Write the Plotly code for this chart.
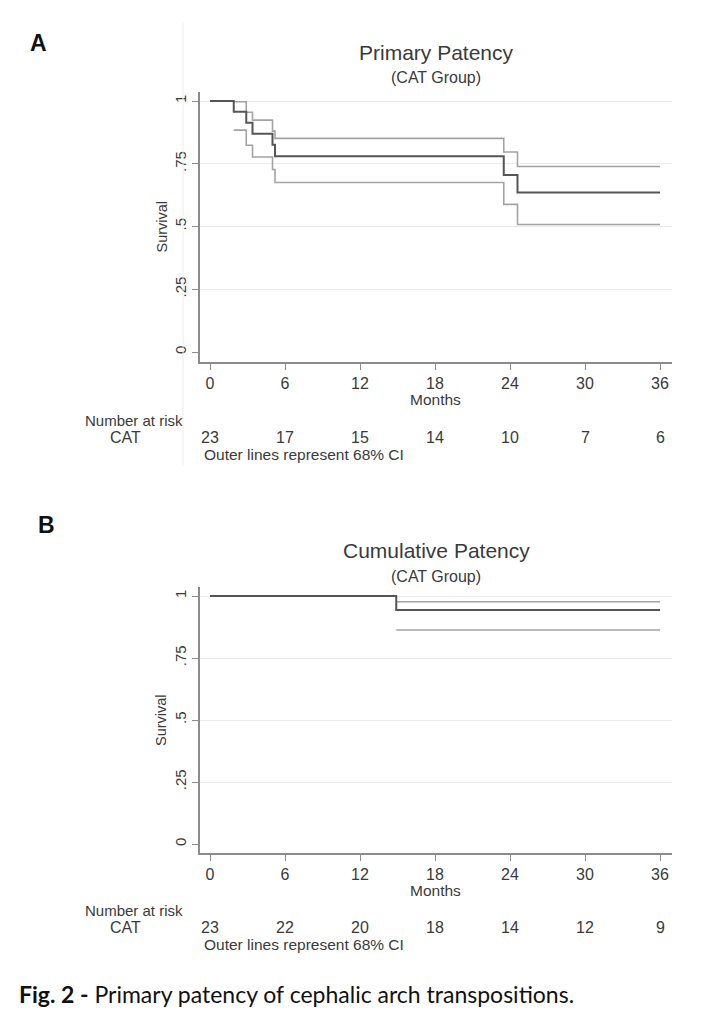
import plotly.graph_objects as go

# ---------------- data ----------------
tick_months = [0, 6, 12, 18, 24, 30, 36]
y_ticks = [0, 0.25, 0.5, 0.75, 1]
y_tick_text = ["0", ".25", ".5", ".75", "1"]
grid_vals = [0.25, 0.5, 0.75, 1]

# Panel A - Primary patency
a_main_t = [0, 1.9, 2.9, 3.4, 5.0, 5.2, 23.5, 24.6, 36]
a_main_s = [1, 0.957, 0.913, 0.870, 0.826, 0.780, 0.705, 0.635, 0.635]
a_up_t = [1.9, 2.9, 3.4, 5.0, 5.2, 23.5, 24.6, 36]
a_up_s = [0.997, 0.955, 0.924, 0.880, 0.851, 0.797, 0.739, 0.739]
a_lo_t = [1.9, 2.9, 3.4, 5.0, 5.2, 23.5, 24.6, 36]
a_lo_s = [0.884, 0.824, 0.777, 0.727, 0.675, 0.588, 0.508, 0.508]
a_risk = [23, 17, 15, 14, 10, 7, 6]

# Panel B - Cumulative patency
b_main_t = [0, 14.9, 36]
b_main_s = [1, 0.944, 0.944]
b_up_t = [14.9, 36]
b_up_s = [0.977, 0.977]
b_lo_t = [14.9, 36]
b_lo_s = [0.863, 0.863]
b_risk = [23, 22, 20, 18, 14, 12, 9]

W, H = 706, 1024
FONT = "Liberation Sans, Arial, sans-serif"
TXT = "#3a3a3a"
MAIN_C = "#555555"
CI_C = "#a3a3a3"
AX_C = "#8c8c8c"

def px(x):
    return x / W

def py(y):
    return 1 - y / H

fig = go.Figure()

# x-range so that 0 -> 210px and 36 -> 660px, axis from 200px to 672px
x0p, x36p, xl, xr = 210, 660, 200, 672
scale = (x36p - x0p) / 36.0
x_range = [(xl - x0p) / scale, (xr - x0p) / scale]

panels = [
    dict(main=(a_main_t, a_main_s), up=(a_up_t, a_up_s), lo=(a_lo_t, a_lo_s), risk=a_risk,
         y1p=101, y0p=352, top=92, bot=362, title="Primary Patency", sub="(CAT Group)",
         title_y=52, sub_y=77, label="A", label_xy=(38, 43), months_y=399,
         nar_y=420, cat_y=437, outer_y=454),
    dict(main=(b_main_t, b_main_s), up=(b_up_t, b_up_s), lo=(b_lo_t, b_lo_s), risk=b_risk,
         y1p=596, y0p=844, top=587, bot=853, title="Cumulative Patency", sub="(CAT Group)",
         title_y=550, sub_y=576, label="B", label_xy=(46, 525), months_y=890,
         nar_y=910, cat_y=927, outer_y=944),
]

annotations = []
for i, p in enumerate(panels):
    n = i + 1
    xa = "x" if n == 1 else f"x{n}"
    ya = "y" if n == 1 else f"y{n}"
    yg = f"y{n + 2}"
    upx = (p["y0p"] - p["y1p"])
    y_range = [-(p["bot"] - p["y0p"]) / upx, 1 + (p["y1p"] - p["top"]) / upx]

    for (t, s), col, wd in [(p["up"], CI_C, 1.6), (p["lo"], CI_C, 1.6), (p["main"], MAIN_C, 2.0)]:
        fig.add_trace(go.Scatter(x=t, y=s, mode="lines", line=dict(color=col, width=wd, shape="hv"),
                                 xaxis=xa, yaxis=ya, showlegend=False, hoverinfo="skip"))

    dom_x = [px(xl), px(xr)]
    dom_y = [py(p["bot"]), py(p["top"])]
    xkey = "xaxis" if n == 1 else f"xaxis{n}"
    ykey = "yaxis" if n == 1 else f"yaxis{n}"
    fig.update_layout(**{
        xkey: dict(domain=dom_x, range=x_range, anchor=ya, tickvals=tick_months,
                   ticks="outside", ticklen=6, tickcolor=AX_C, tickwidth=1.3,
                   showline=True, linecolor=AX_C, linewidth=1.5, showgrid=False, zeroline=False,
                   tickfont=dict(family=FONT, size=16, color=TXT), showticklabels=True),
        ykey: dict(domain=dom_y, range=y_range, anchor=xa, tickvals=y_ticks, ticktext=y_tick_text,
                   tickangle=-90, ticks="outside", ticklen=6, tickcolor=AX_C, tickwidth=1.3,
                   showline=True, linecolor=AX_C, linewidth=1.5, showgrid=False, zeroline=False,
                   tickfont=dict(family=FONT, size=15, color=TXT)),
        f"yaxis{n + 2}": dict(domain=dom_y, range=y_range, overlaying=ya, anchor=xa,
                              tickvals=grid_vals, showticklabels=False, showgrid=True,
                              gridcolor="#ebebeb", gridwidth=1.3, zeroline=False, showline=False,
                              layer="below traces"),
    })
    fig.add_trace(go.Scatter(x=[None], y=[None], xaxis=xa, yaxis=yg, showlegend=False, hoverinfo="skip"))

    cx = (xl + xr) / 2
    annotations += [
        dict(text=p["title"], x=px(cx), y=py(p["title_y"]), xref="paper", yref="paper",
             showarrow=False, font=dict(family=FONT, size=21, color=TXT), xanchor="center", yanchor="middle"),
        dict(text=p["sub"], x=px(cx), y=py(p["sub_y"]), xref="paper", yref="paper",
             showarrow=False, font=dict(family=FONT, size=16, color=TXT), xanchor="center", yanchor="middle"),
        dict(text="<b>" + p["label"] + "</b>", x=px(p["label_xy"][0]), y=py(p["label_xy"][1]),
             xref="paper", yref="paper", showarrow=False,
             font=dict(family=FONT, size=23, color="#111111"), xanchor="center", yanchor="middle"),
        dict(text="Survival", x=px(161), y=py((p["y0p"] + p["y1p"]) / 2), xref="paper", yref="paper",
             showarrow=False, textangle=-90, font=dict(family=FONT, size=14.5, color=TXT),
             xanchor="center", yanchor="middle"),
        dict(text="Months", x=18, y=py(p["months_y"]), xref=xa, yref="paper", showarrow=False,
             font=dict(family=FONT, size=15.5, color=TXT), xanchor="center", yanchor="middle"),
        dict(text="Number at risk", x=px(185), y=py(p["nar_y"]), xref="paper", yref="paper",
             showarrow=False, font=dict(family=FONT, size=15, color=TXT), xanchor="right", yanchor="middle"),
        dict(text="CAT", x=px(126), y=py(p["cat_y"]), xref="paper", yref="paper",
             showarrow=False, font=dict(family=FONT, size=16, color=TXT), xanchor="center", yanchor="middle"),
        dict(text="Outer lines represent 68% CI", x=px(202), y=py(p["outer_y"]), xref="paper", yref="paper",
             showarrow=False, font=dict(family=FONT, size=15.5, color=TXT), xanchor="left", yanchor="middle"),
    ]
    for t, r in zip(tick_months, p["risk"]):
        annotations.append(dict(text=str(r), x=t, y=py(p["cat_y"]), xref=xa, yref="paper", showarrow=False,
                                font=dict(family=FONT, size=16, color=TXT), xanchor="center", yanchor="middle"))

annotations.append(dict(text="<b>Fig. 2 -</b> Primary patency of cephalic arch transpositions.",
                        x=px(17), y=py(994), xref="paper", yref="paper", showarrow=False,
                        font=dict(family="Lato, Open Sans, sans-serif", size=23, color="#111111"),
                        xanchor="left", yanchor="middle"))

shapes = [dict(type="line", xref="paper", yref="paper", x0=px(183), x1=px(183), y0=py(22), y1=py(466),
               line=dict(color="#ededed", width=1))]

fig.update_layout(width=W, height=H, margin=dict(l=0, r=0, t=0, b=0), autosize=False,
                  paper_bgcolor="white", plot_bgcolor="white", showlegend=False,
                  annotations=annotations, shapes=shapes)

fig.write_html("out.html", config={"displayModeBar": False},
               post_script="document.body.style.margin='0';")
